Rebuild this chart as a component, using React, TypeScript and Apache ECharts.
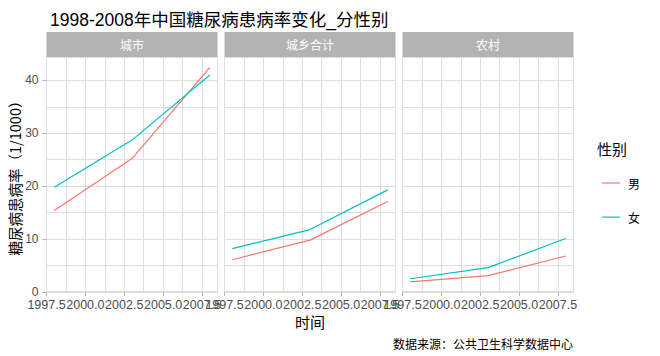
import React, { useEffect, useRef } from "react";
import * as echarts from "echarts";

const panels = ["城市", "城乡合计", "农村"];
const years = [1998, 2003, 2008];
const maleValues = [
  [15.4, 25.2, 42.4],
  [6.1, 9.8, 17.1],
  [1.9, 3.1, 6.8],
];
const femaleValues = [
  [19.8, 28.7, 41.0],
  [8.2, 11.8, 19.3],
  [2.5, 4.6, 10.1],
];
const xTicks = [1997.5, 2000, 2002.5, 2005, 2007.5];
const yTicks = [0, 10, 20, 30, 40];
const seriesNames = ["男", "女"];
const colors = ["#F8766D", "#00BFC4"];

const LAT = '"Liberation Sans", Arial, "Noto Sans CJK SC", sans-serif';
const CJK = '"Noto Sans CJK SC", "Liberation Sans", sans-serif';

export default function App() {
  const ref = useRef<HTMLDivElement>(null);
  useEffect(() => {
    if (!ref.current) return;
    document.body.style.margin = "0";
    const chart = echarts.init(ref.current, undefined, { renderer: "svg" });
    const lefts = [46.5, 224.5, 402.5];
    const width = 171;
    const top = 57;
    const bottom = 64;
    const grids = lefts.map((l) => ({
      left: l,
      width,
      top,
      bottom,
      show: true,
      borderColor: "#B3B3B3",
      borderWidth: 1,
      backgroundColor: "transparent",
    }));
    const xAxes: any[] = [];
    const yAxes: any[] = [];
    const series: any[] = [];
    const graphics: any[] = [];
    panels.forEach((p, i) => {
      xAxes.push({
        gridIndex: i,
        type: "value",
        position: "bottom",
        min: 1997.5,
        max: 2008.5,
        interval: 1.25,
        splitLine: { show: true, lineStyle: { color: "#DEDEDE", width: 1 } },
        axisLine: { show: false },
        axisTick: { show: false },
        axisLabel: { show: false },
      });
      xAxes.push({
        gridIndex: i,
        type: "value",
        position: "bottom",
        min: 1997.5,
        max: 2008.5,
        interval: 2.5,
        splitLine: { show: false },
        axisLine: { show: false },
        axisTick: {
          show: true,
          length: 4,
          lineStyle: { color: "#B3B3B3" },
          customValues: xTicks,
        },
        axisLabel: {
          show: true,
          customValues: xTicks,
          formatter: (v: number) => v.toFixed(1),
          color: "#4D4D4D",
          fontSize: 12.5,
          fontFamily: LAT,
          margin: 7,
          hideOverlap: false,
        },
      });
      yAxes.push({
        gridIndex: i,
        type: "value",
        position: "left",
        min: 0,
        max: 44.4,
        interval: 5,
        splitLine: { show: true, lineStyle: { color: "#DEDEDE", width: 1 } },
        axisLine: { show: false },
        axisTick: { show: false },
        axisLabel: { show: false },
      });
      yAxes.push({
        gridIndex: i,
        type: "value",
        position: "left",
        min: 0,
        max: 44.4,
        interval: 10,
        splitLine: { show: false },
        axisLine: { show: false },
        axisTick: {
          show: i === 0,
          length: 4,
          lineStyle: { color: "#B3B3B3" },
          customValues: yTicks,
        },
        axisLabel: {
          show: i === 0,
          customValues: yTicks,
          color: "#4D4D4D",
          fontSize: 12,
          fontFamily: LAT,
          margin: 8,
        },
        name: i === 0 ? "糖尿病患病率（1/1000）" : "",
        nameLocation: "middle",
        nameRotate: 90,
        nameGap: 24,
        nameTextStyle: { color: "#000", fontSize: 14.5, fontFamily: CJK },
      });
      [maleValues, femaleValues].forEach((vals, s) => {
        series.push({
          name: seriesNames[s],
          type: "line",
          xAxisIndex: 2 * i,
          yAxisIndex: 2 * i,
          data: years.map((y, k) => [y, vals[i][k]]),
          symbol: "none",
          lineStyle: { color: colors[s], width: 1.2 },
          itemStyle: { color: colors[s] },
        });
      });
      graphics.push({
        type: "rect",
        shape: { x: lefts[i], y: 32, width, height: 25 },
        style: { fill: "#B3B3B3" },
      });
      graphics.push({
        type: "text",
        x: lefts[i] + width / 2,
        y: 44.5,
        style: {
          text: p,
          fill: "#fff",
          fontSize: 12,
          fontFamily: CJK,
          textAlign: "center",
          textVerticalAlign: "middle",
        },
      });
    });
    graphics.push({
      type: "text",
      x: 310,
      y: 321,
      style: {
        text: "时间",
        fill: "#000",
        fontSize: 15,
        fontFamily: CJK,
        textAlign: "center",
        textVerticalAlign: "middle",
      },
    });
    graphics.push({
      type: "text",
      x: 573,
      y: 343,
      style: {
        text: "数据来源：公共卫生科学数据中心",
        fill: "#000",
        fontSize: 12,
        fontFamily: CJK,
        textAlign: "right",
        textVerticalAlign: "middle",
      },
    });
    graphics.push({
      type: "text",
      x: 597,
      y: 148,
      style: {
        text: "性别",
        fill: "#000",
        fontSize: 15,
        fontFamily: CJK,
        textAlign: "left",
        textVerticalAlign: "middle",
      },
    });

    chart.setOption({
      animation: false,
      backgroundColor: "#fff",
      title: {
        text: "1998-2008年中国糖尿病患病率变化_分性别",
        left: 45,
        top: 6,
        textStyle: {
          color: "#000",
          fontSize: 17.5,
          fontWeight: "normal",
          fontFamily: LAT,
        },
      },
      legend: {
        orient: "vertical",
        left: 597,
        top: 172,
        icon: "rect",
        itemWidth: 18,
        itemHeight: 1.2,
        itemGap: 22.1,
        data: seriesNames,
        textStyle: { fontSize: 12, color: "#000", fontFamily: CJK, padding: [3, 0, 0, 3] },
      },
      grid: grids,
      xAxis: xAxes,
      yAxis: yAxes,
      series,
      graphic: graphics,
    });
    return () => chart.dispose();
  }, []);
  return <div ref={ref} style={{ width: 660, height: 356 }} />;
}
